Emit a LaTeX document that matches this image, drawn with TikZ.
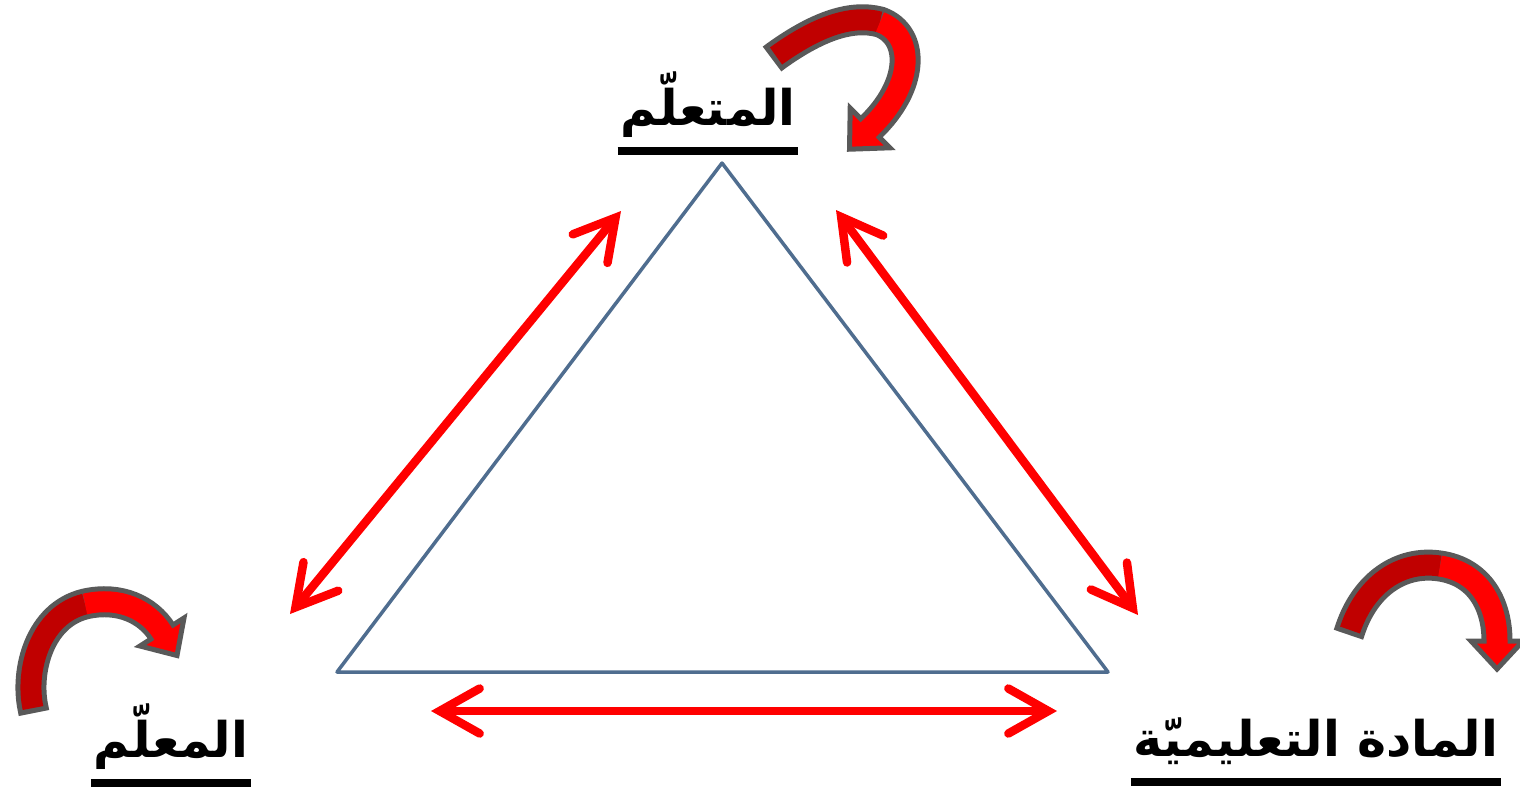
\documentclass[tikz,border=0pt]{standalone}
\usepackage{fontspec}
\newfontfamily\arabicfont[Script=Arabic]{DejaVu Sans}
\TeXXeTstate=1
\usepackage{xcolor}
\usepackage{tikz}
\usetikzlibrary{arrows.meta}

\definecolor{triblue}{RGB}{79,109,143}
\definecolor{loopdark}{RGB}{192,0,0}
\definecolor{loopedge}{RGB}{89,89,89}

\tikzset{
  side/.style={draw=triblue, line width=0.07cm, line join=round},
  link/.style={draw=red, line width=0.17cm, line cap=round,
    >={Straight Barb[length=0.8cm, width=0.9cm, line cap=round, line join=miter]}, <->},
  role/.style={font=\arabicfont\bfseries\fontsize{28}{32}\selectfont, inner sep=0pt, anchor=base},
  underbar/.style={line width=0.17cm},
  loopband/.style={draw=loopedge, line width=0.62cm},
  loophead/.style={fill=red, draw=loopedge, line width=0.1cm, line join=miter},
  loopback/.style={draw=loopdark, line width=0.42cm},
  loopfront/.style={draw=red, line width=0.42cm}
}

\begin{document}
\begin{tikzpicture}[x=0.02cm, y=-0.02cm]
    \useasboundingbox (0,0) rectangle (1520,789);

    % triangle
    \coordinate (apex) at (722,163);
    \coordinate (left) at (337,672);
    \coordinate (right) at (1108,672);
    \draw[side] (apex) -- (left) -- (right) -- cycle;

    % red double arrows
    \coordinate (tchtop) at (290,614);
    \coordinate (lrnleft) at (621,211);
    \coordinate (lrnright) at (836,210);
    \coordinate (cntup) at (1138,615);
    \coordinate (tchright) at (431,711);
    \coordinate (cntleft) at (1057,711);
    \draw[link] (tchtop) -- (lrnleft);
    \draw[link] (lrnright) -- (cntup);
    \draw[link] (tchright) -- (cntleft);

    % labels
    \node[role] (learner) at (708,125) {\beginR المتعلّم\endR};
    \node[role] (teacher) at (171,757) {\beginR المعلّم\endR};
    \node[role] (content) at (1316,756) {\beginR المادة التعليميّة\endR};
    \draw[underbar] ([xshift=-0.05cm, yshift=-0.52cm]learner.base west) -- ([xshift=0.05cm, yshift=-0.52cm]learner.base east);
    \draw[underbar] ([xshift=-0.05cm, yshift=-0.52cm]teacher.base west) -- ([xshift=0.05cm, yshift=-0.52cm]teacher.base east);
    \draw[underbar] ([xshift=-0.05cm, yshift=-0.52cm]content.base west) -- ([xshift=0.05cm, yshift=-0.52cm]content.base east);

    % curved arrow over the learner
    \draw[loopband] (772,59) -- (776,56) .. controls (815,28) and (850,14) .. (880,22) .. controls (915,35) and (915,85) .. (870,128);
    \filldraw[loophead] (850.2,108.2) -- (849.5,149.2) -- (889.8,147.8) -- cycle;
    \draw[loopback] (776,56) .. controls (815,28) and (850,14) .. (880,22);
    \draw[loopfront] (880,22) .. controls (915,35) and (915,85) .. (870,128) -- (867.2,130.8);

    % curved arrow over the teacher
    \draw[loopband] (34,713) -- (33,708) .. controls (25,670) and (40,615) .. (85,604) .. controls (120,596) and (148,610) .. (162,632);
    \filldraw[loophead] (184,618) -- (177,655.5) -- (140,646) -- cycle;
    \draw[loopback] (33,708) .. controls (25,670) and (40,615) .. (85,604);
    \draw[loopfront] (85,604) .. controls (120,596) and (148,610) .. (162,632) -- (164.1,635.4);

    % curved arrow over the content
    \draw[loopband] (1348.4,634.7) -- (1350,630) .. controls (1365,585) and (1400,560) .. (1440,566) .. controls (1480,572) and (1497,605) .. (1497,641);
    \filldraw[loophead] (1471,641) -- (1497,669) -- (1523,641) -- cycle;
    \draw[loopback] (1350,630) .. controls (1365,585) and (1400,560) .. (1440,566);
    \draw[loopfront] (1440,566) .. controls (1480,572) and (1497,605) .. (1497,641) -- (1497,645);
\end{tikzpicture}
\end{document}
